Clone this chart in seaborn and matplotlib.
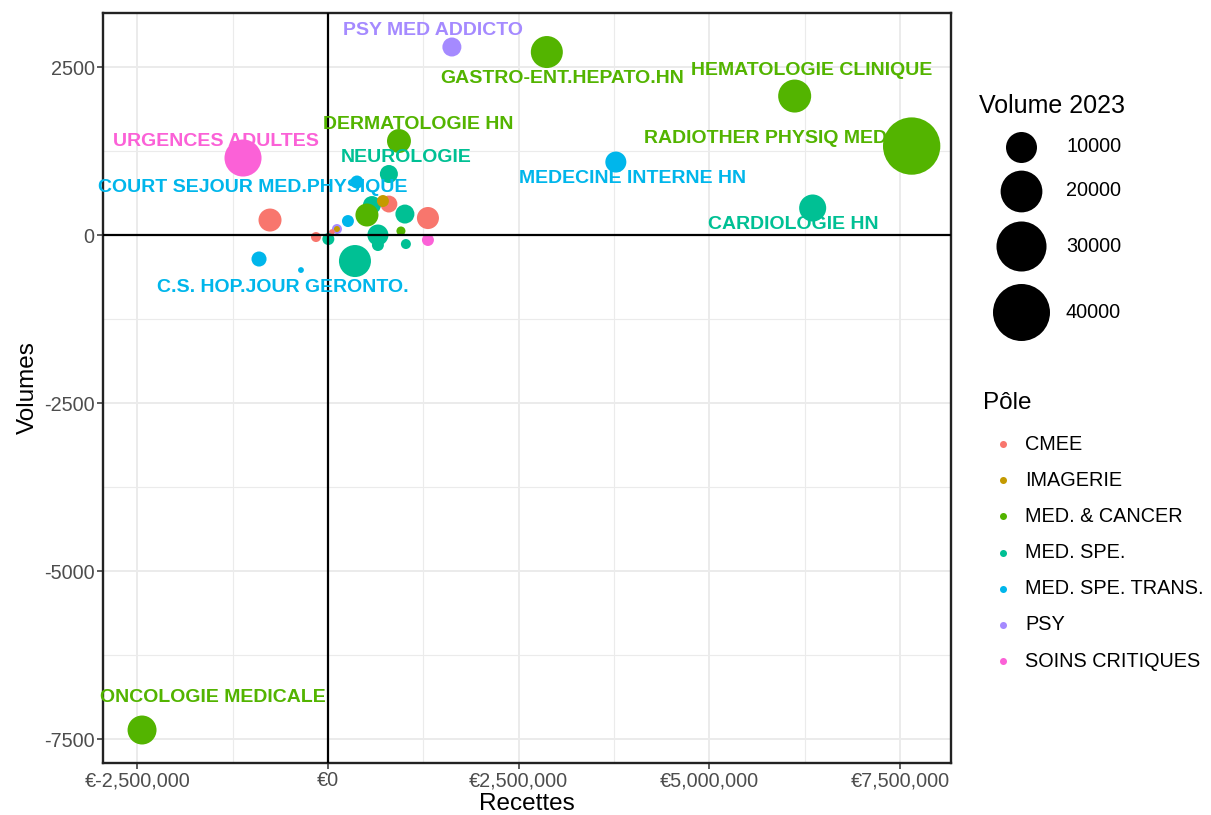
import numpy as np
import pandas as pd
import matplotlib
matplotlib.use("Agg")
import matplotlib.pyplot as plt
import matplotlib.colors as mcolors
from matplotlib.ticker import FuncFormatter, MultipleLocator
import seaborn as sns

# ---- data ----
service = ["", "", "", "", "", "", "", "", "", "", "", "", "", "", "", "", "", "", "", "",
           "PSY MED ADDICTO", "GASTRO-ENT.HEPATO.HN", "HEMATOLOGIE CLINIQUE",
           "RADIOTHER PHYSIQ MED", "DERMATOLOGIE HN", "URGENCES ADULTES", "NEUROLOGIE",
           "MEDECINE INTERNE HN", "CARDIOLOGIE HN", "COURT SEJOUR MED.PHYSIQUE",
           "C.S. HOP.JOUR GERONTO.", "ONCOLOGIE MEDICALE"]
pole = ["MED. SPE.", "MED. & CANCER", "CMEE", "IMAGERIE", "MED. SPE.", "CMEE", "CMEE",
        "MED. SPE. TRANS.", "PSY", "IMAGERIE", "CMEE", "CMEE", "MED. SPE.", "MED. SPE.",
        "MED. SPE.", "MED. & CANCER", "SOINS CRITIQUES", "MED. SPE.", "MED. SPE. TRANS.",
        "MED. SPE.",
        "PSY", "MED. & CANCER", "MED. & CANCER", "MED. & CANCER", "MED. & CANCER",
        "SOINS CRITIQUES", "MED. SPE.", "MED. SPE. TRANS.", "MED. SPE.",
        "MED. SPE. TRANS.", "MED. SPE. TRANS.", "MED. & CANCER"]
recettes = [577000, 511000, 799000, 721000, 1009000, 1311000, -760000, 262000, 118000,
            118000, 52000, -157000, 5000, 655000, 655000, 957000, 1311000, 1022000,
            -904000, 354000,
            1625000, 2870000, 6120000, 7654000, 931000, -1114000, 799000, 3775000,
            6356000, 380000, -354000, -2438000]
volumes = [446, 298, 461, 506, 312, 253, 223, 208, 89, 89, 45, -30, -60, 0, -149, 60,
           -74, -134, -357, -387,
           2798, 2723, 2068, 1324, 1399, 1146, 908, 1086, 402, 789, -521, -7366]
volume_2023 = [2500, 4800, 2100, 720, 2900, 4300, 4800, 720, 370, 15, 5, 370, 720, 3800,
               720, 240, 720, 370, 1500, 10800,
               2900, 10800, 11600, 40500, 5300, 15200, 2500, 3800, 7200, 950, 10, 8500]

pole_order = ["CMEE", "IMAGERIE", "MED. & CANCER", "MED. SPE.", "MED. SPE. TRANS.",
              "PSY", "SOINS CRITIQUES"]
pole_colors = ["#F8766D", "#C49A00", "#53B400", "#00C094", "#00B6EB", "#A58AFF", "#FB61D7"]
size_breaks = [10000, 20000, 30000, 40000]

# label anchor (repelled) positions
label_pos = {
    "PSY MED ADDICTO": (1376000, 3051),
    "GASTRO-ENT.HEPATO.HN": (3067000, 2336),
    "HEMATOLOGIE CLINIQUE": (6343000, 2455),
    "RADIOTHER PHYSIQ MED": (5740000, 1443),
    "DERMATOLOGIE HN": (1180000, 1652),
    "URGENCES ADULTES": (-1468000, 1399),
    "NEUROLOGIE": (1022000, 1161),
    "MEDECINE INTERNE HN": (3997000, 848),
    "CARDIOLOGIE HN": (6107000, 164),
    "COURT SEJOUR MED.PHYSIQUE": (-983000, 714),
    "C.S. HOP.JOUR GERONTO.": (-590000, -774),
    "ONCOLOGIE MEDICALE": (-1507000, -6875),
}

df = pd.DataFrame({"service": service, "pole": pole, "recettes": recettes,
                   "volumes": volumes, "volume_2023": volume_2023})

# ---- style ----
sns.set_theme(style="white")
plt.rcParams["font.family"] = ["Liberation Sans", "DejaVu Sans"]
plt.rcParams["text.color"] = "black"
plt.rcParams["axes.labelcolor"] = "black"

DPI = 100
fig = plt.figure(figsize=(12.11, 8.15), dpi=DPI)
ax = fig.add_axes([103 / 1211, 1 - 763 / 815, (951 - 103) / 1211, (763 - 13) / 815])


# ggplot-like size scale: diameter (px) = 5 + 0.26 * sqrt(volume)
def diam_px(v):
    return 5 + 0.26 * np.sqrt(v)


def area_pt(v):
    return (diam_px(v) * 72 / DPI) ** 2


vmax = 45000
size_norm = mcolors.FuncNorm((lambda v: diam_px(np.maximum(v, 0)) ** 2,
                              lambda a: ((np.sqrt(a) - 5) / 0.26) ** 2), vmin=0, vmax=vmax)

sns.scatterplot(data=df, x="recettes", y="volumes", hue="pole", hue_order=pole_order,
                palette=pole_colors, size="volume_2023", sizes=(area_pt(0), area_pt(vmax)),
                size_norm=size_norm, linewidth=0, alpha=1, legend=False, ax=ax, zorder=3)

ax.axhline(0, color="black", lw=1.6, zorder=4)
ax.axvline(0, color="black", lw=1.6, zorder=4)

color_of = dict(zip(pole_order, pole_colors))
for _, r in df[df["service"] != ""].iterrows():
    lx, ly = label_pos[r["service"]]
    ax.text(lx, ly, r["service"], color=color_of[r["pole"]], fontsize=14,
            fontweight="bold", ha="center", va="center", zorder=5)

ax.set_xlim(-2950000, 8170000)
ax.set_ylim(-7857, 3304)
ax.xaxis.set_major_locator(MultipleLocator(2500000))
ax.xaxis.set_minor_locator(MultipleLocator(1250000))
ax.yaxis.set_major_locator(MultipleLocator(2500))
ax.yaxis.set_minor_locator(MultipleLocator(1250))
ax.xaxis.set_major_formatter(FuncFormatter(lambda v, _: f"€{v:,.0f}"))
ax.yaxis.set_major_formatter(FuncFormatter(lambda v, _: f"{v:.0f}"))
ax.grid(which="major", color="#EBEBEB", lw=1.4, zorder=0)
ax.grid(which="minor", color="#EBEBEB", lw=0.8, zorder=0)
ax.set_axisbelow(True)
ax.tick_params(which="major", length=4, width=1.1, color="#333333",
               labelsize=14.3, labelcolor="#4D4D4D", pad=2, bottom=True, left=True)
ax.tick_params(which="minor", length=0)
for s in ax.spines.values():
    s.set_color("#222222")
    s.set_linewidth(1.7)
ax.set_xlabel("Recettes", fontsize=17.5, labelpad=2)
ax.set_ylabel("Volumes", fontsize=17.5, labelpad=4)

# ---- legends (drawn in a pixel-space overlay) ----
lax = fig.add_axes([0, 0, 1, 1], zorder=-1)
lax.set_xlim(0, 1211)
lax.set_ylim(815, 0)
lax.axis("off")

lax.text(979, 106, "Volume 2023", fontsize=18, va="center", ha="left")
for yy, b in zip([147, 191, 246, 312], size_breaks):
    lax.scatter([1021], [yy], s=area_pt(b), color="black", linewidth=0)
    lax.text(1066, yy, str(b), fontsize=14.3, va="center", ha="left")

lax.text(983, 403, "Pôle", fontsize=17.5, va="center", ha="left")
for i, (p, c) in enumerate(zip(pole_order, pole_colors)):
    yy = 444 + i * 36.2
    lax.scatter([1003], [yy], s=area_pt(60), color=c, linewidth=0)
    lax.text(1025, yy, p, fontsize=14.3, va="center", ha="left")

fig.savefig("out.png", dpi=DPI)
